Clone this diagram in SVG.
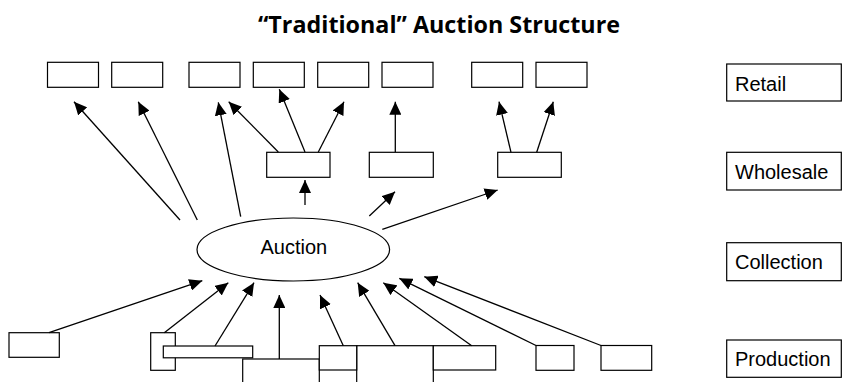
<svg xmlns="http://www.w3.org/2000/svg" width="842" height="382" viewBox="0 0 842 382">
  <defs>
    <marker id="arrow" markerUnits="userSpaceOnUse" markerWidth="14" markerHeight="12" refX="13" refY="6" orient="auto">
      <path d="M0,0 L13,6 L0,12 Z" fill="#000"/>
    </marker>
    <style>
      .box { fill: #fff; stroke: #000; stroke-width: 1.2; }
      .edge { stroke: #000; stroke-width: 1.3; fill: none; marker-end: url(#arrow); }
      .lbl { font-family: "Liberation Sans", Arial, sans-serif; font-size: 20px; fill: #000; }
      .title { font-family: "Open Sans", "Noto Sans", sans-serif; font-size: 23.5px; font-weight: bold; fill: #000; }
    </style>
  </defs>

  <rect width="842" height="382" fill="#fff"/>

  <text class="title" x="439" y="33" text-anchor="middle" textLength="362" lengthAdjust="spacingAndGlyphs">“Traditional” Auction Structure</text>

  <!-- retail outlets -->
  <g id="retail-1"><rect class="box" x="47.5" y="62.3" width="51" height="25"/></g>
  <g id="retail-2"><rect class="box" x="111.7" y="62.3" width="51" height="25"/></g>
  <g id="retail-3"><rect class="box" x="189" y="62.3" width="51" height="25"/></g>
  <g id="retail-4"><rect class="box" x="253.3" y="62.3" width="51" height="25"/></g>
  <g id="retail-5"><rect class="box" x="317.7" y="62.3" width="51" height="25"/></g>
  <g id="retail-6"><rect class="box" x="382" y="62.3" width="51" height="25"/></g>
  <g id="retail-7"><rect class="box" x="471.7" y="62.3" width="51" height="25"/></g>
  <g id="retail-8"><rect class="box" x="536" y="62.3" width="51" height="25"/></g>

  <!-- wholesalers -->
  <g id="wholesale-1"><rect class="box" x="266.7" y="152.3" width="63.3" height="25"/></g>
  <g id="wholesale-2"><rect class="box" x="369.3" y="152.3" width="64" height="25"/></g>
  <g id="wholesale-3"><rect class="box" x="497.7" y="152.3" width="63.6" height="25"/></g>

  <!-- auction -->
  <g id="auction">
    <ellipse class="box" cx="293.3" cy="249.5" rx="96.3" ry="31.5"/>
    <text class="lbl" x="293.8" y="254" text-anchor="middle">Auction</text>
  </g>

  <!-- producers -->
  <g id="producer-1"><rect class="box" x="9" y="332.7" width="50.3" height="24.6"/></g>
  <g id="producer-2">
    <rect class="box" x="150.7" y="332.7" width="24.6" height="37.6"/>
    <rect class="box" x="163.3" y="346" width="89.4" height="11.8"/>
  </g>
  <g id="producer-3"><rect class="box" x="242.7" y="359" width="76.6" height="60"/></g>
  <g id="producer-4"><rect class="box" x="356.7" y="345.7" width="76.6" height="70"/></g>
  <g id="producer-5"><rect class="box" x="319.3" y="345.7" width="37.4" height="24.3"/></g>
  <g id="producer-6"><rect class="box" x="433.3" y="345.7" width="62.4" height="24.3"/></g>
  <g id="producer-7"><rect class="box" x="536" y="345.5" width="38" height="24.8"/></g>
  <g id="producer-8"><rect class="box" x="601" y="345.5" width="50.7" height="24.8"/></g>

  <!-- level legend -->
  <g id="legend-retail">
    <rect class="box" x="726.7" y="64" width="114.6" height="37"/>
    <text class="lbl" x="735" y="90.7">Retail</text>
  </g>
  <g id="legend-wholesale">
    <rect class="box" x="726.7" y="152.3" width="114.6" height="37.7"/>
    <text class="lbl" x="735" y="179.3">Wholesale</text>
  </g>
  <g id="legend-collection">
    <rect class="box" x="726.7" y="242.7" width="114.6" height="38"/>
    <text class="lbl" x="735" y="269.3">Collection</text>
  </g>
  <g id="legend-production">
    <rect class="box" x="726.7" y="340" width="114.6" height="37.3"/>
    <text class="lbl" x="735" y="366">Production</text>
  </g>

  <!-- flows -->
  <g id="connectors">
    <line class="edge" x1="180" y1="220" x2="74" y2="101.7"/>
    <line class="edge" x1="197.3" y1="220" x2="138.3" y2="101.7"/>
    <line class="edge" x1="240.7" y1="216.7" x2="218.3" y2="102.3"/>
    <line class="edge" x1="278.3" y1="152" x2="228.7" y2="101.7"/>
    <line class="edge" x1="305" y1="152" x2="279.3" y2="89.3"/>
    <line class="edge" x1="318.3" y1="152" x2="344" y2="101.7"/>
    <line class="edge" x1="395.3" y1="152" x2="395.3" y2="101.7"/>
    <line class="edge" x1="305" y1="205" x2="305" y2="180"/>
    <line class="edge" x1="369.3" y1="216" x2="395" y2="191.7"/>
    <line class="edge" x1="382.3" y1="229.3" x2="497.7" y2="190"/>
    <line class="edge" x1="511" y1="152.3" x2="499" y2="101.7"/>
    <line class="edge" x1="536.7" y1="152.3" x2="553.3" y2="101.7"/>

    <line class="edge" x1="49" y1="332.7" x2="202.3" y2="280.7"/>
    <line class="edge" x1="164.3" y1="332.7" x2="228.3" y2="282.7"/>
    <line class="edge" x1="215" y1="346" x2="254" y2="282.7"/>
    <line class="edge" x1="279.3" y1="359" x2="279.3" y2="295"/>
    <line class="edge" x1="343.3" y1="345.7" x2="320" y2="295"/>
    <line class="edge" x1="395" y1="345.7" x2="357.7" y2="282.7"/>
    <line class="edge" x1="471.7" y1="345.7" x2="383.3" y2="282.7"/>
    <line class="edge" x1="536" y1="345.5" x2="399.3" y2="278.3"/>
    <line class="edge" x1="601" y1="345.5" x2="424.3" y2="276.7"/>
  </g>
</svg>
